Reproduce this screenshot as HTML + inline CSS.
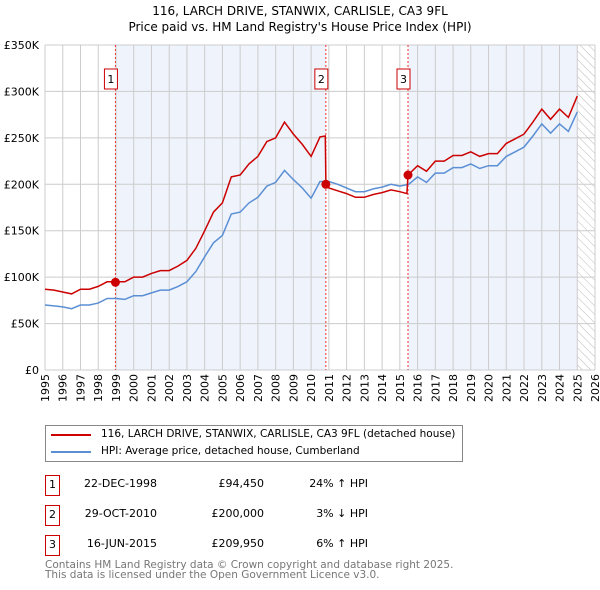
<!DOCTYPE html>
<html><head><meta charset="utf-8"><style>
body{margin:0;background:#fff;font-family:"DejaVu Sans","Liberation Sans",sans-serif;}
.t{position:absolute;font-size:11px;color:#000;white-space:nowrap}
</style></head><body>
<div style="position:relative;width:600px;height:590px;overflow:hidden">
<div class="t" style="left:0;width:600px;text-align:center;top:4px;font-size:12px">116, LARCH DRIVE, STANWIX, CARLISLE, CA3 9FL</div>
<div class="t" style="left:0;width:600px;text-align:center;top:20px;font-size:12px">Price paid vs. HM Land Registry's House Price Index (HPI)</div>
<svg id="chart" width="600" height="420" style="position:absolute;left:0;top:0;font-family:'DejaVu Sans',sans-serif"></svg>
<div style="position:absolute;left:45px;top:425px;width:416px;height:35px;border:1px solid #888">
<div style="position:absolute;left:5px;top:8px;width:40px;height:2px;background:#cc0000"></div>
<div class="t" style="left:55px;top:2px;font-size:10.5px">116, LARCH DRIVE, STANWIX, CARLISLE, CA3 9FL (detached house)</div>
<div style="position:absolute;left:5px;top:25px;width:40px;height:2px;background:#5b8fd4"></div>
<div class="t" style="left:55px;top:19px;font-size:10.5px">HPI: Average price, detached house, Cumberland</div>
</div>
<div id="rows"></div>
<div class="t" style="left:45px;top:560px;color:#777;font-size:10.5px;line-height:10px">Contains HM Land Registry data © Crown copyright and database right 2025.<br>This data is licensed under the Open Government Licence v3.0.</div>
</div>
<script>
const yearTicks=[1995,1996,1997,1998,1999,2000,2001,2002,2003,2004,2005,2006,2007,2008,2009,2010,2011,2012,2013,2014,2015,2016,2017,2018,2019,2020,2021,2022,2023,2024,2025,2026];
const valueTicks=[0,50,100,150,200,250,300,350];
const valueLabels=["£0","£50K","£100K","£150K","£200K","£250K","£300K","£350K"];
const hpiYears=[1995,1995.5,1996,1996.5,1997,1997.5,1998,1998.5,1999,1999.5,2000,2000.5,2001,2001.5,2002,2002.5,2003,2003.5,2004,2004.5,2005,2005.5,2006,2006.5,2007,2007.5,2008,2008.5,2009,2009.5,2010,2010.5,2011,2011.5,2012,2012.5,2013,2013.5,2014,2014.5,2015,2015.5,2016,2016.5,2017,2017.5,2018,2018.5,2019,2019.5,2020,2020.5,2021,2021.5,2022,2022.5,2023,2023.5,2024,2024.5,2025];
const hpiValues=[70,69,68,66,70,70,72,77,77,76,80,80,83,86,86,90,95,106,122,137,145,168,170,180,186,198,202,215,205,196,185,203,203,200,196,192,192,195,197,200,198,200,208,202,212,212,218,218,222,217,220,220,230,235,240,252,265,255,265,257,278];
const ppYears=[1995,1995.5,1996,1996.5,1997,1997.5,1998,1998.5,1999,1999.5,2000,2000.5,2001,2001.5,2002,2002.5,2003,2003.5,2004,2004.5,2005,2005.5,2006,2006.5,2007,2007.5,2008,2008.5,2009,2009.5,2010,2010.5,2010.8,2010.83,2011,2011.5,2012,2012.5,2013,2013.5,2014,2014.5,2015,2015.4,2015.46,2016,2016.5,2017,2017.5,2018,2018.5,2019,2019.5,2020,2020.5,2021,2021.5,2022,2022.5,2023,2023.5,2024,2024.5,2025];
const ppValues=[87,86,84,82,87,87,90,95,95,95,100,100,104,107,107,112,118,131,150,170,180,208,210,222,230,246,250,267,254,243,230,251,252,200,196,193,190,186,186,189,191,194,192,190,210,220,214,225,225,231,231,235,230,233,233,244,249,254,267,281,270,281,272,295];
const saleYears=[1998.97,2010.83,2015.46];
const saleValues=[94.45,200,209.95];
const saleLabels=["1","2","3"];
const saleDates=["22-DEC-1998","29-OCT-2010","16-JUN-2015"];
const salePrices=["£94,450","£200,000","£209,950"];
const saleHpi=["24% ↑ HPI","3% ↓ HPI","6% ↑ HPI"];

const X0=45,X1=595,Y0=370,Y1=45;
const xs=y=>X0+(y-1995)/(2026-1995)*(X1-X0);
const ys=v=>Y0-v/350*(Y0-Y1);
const svg=document.getElementById('chart');const NS='http://www.w3.org/2000/svg';
function mk(t,a){const e=document.createElementNS(NS,t);for(const k in a)e.setAttribute(k,a[k]);svg.appendChild(e);return e;}
let e;
e=mk('rect',{x:X0,y:Y1,width:X1-X0,height:Y0-Y1,fill:'#fff'});


e=mk('rect',{x:xs(saleYears[0]),y:Y1,width:xs(saleYears[1])-xs(saleYears[0]),height:Y0-Y1,fill:'#eef3fc'});


e=mk('rect',{x:xs(saleYears[2]),y:Y1,width:xs(2025)-xs(saleYears[2]),height:Y0-Y1,fill:'#eef3fc'});


const defs=document.createElementNS(NS,'defs');defs.innerHTML='<pattern id="h" width="6" height="6" patternUnits="userSpaceOnUse" patternTransform="rotate(-45)"><line x1="0" y1="0" x2="0" y2="6" stroke="#bbb" stroke-width="1"/></pattern>';svg.appendChild(defs);
e=mk('rect',{x:xs(2025),y:Y1,width:X1-xs(2025),height:Y0-Y1,fill:'url(#h)'});


yearTicks.forEach(y=>{e=mk('line',{x1:xs(y),x2:xs(y),y1:Y1,y2:Y0,stroke:'#ccc','stroke-width':1});


e=mk('text',{x:0,y:0,transform:`translate(${xs(y)+4},${Y0+4}) rotate(-90)`,'text-anchor':'end','font-size':11,fill:'#000'});e.textContent=y;

});
valueTicks.forEach((v,i)=>{e=mk('line',{x1:X0,x2:X1,y1:ys(v),y2:ys(v),stroke:'#ccc','stroke-width':1});


e=mk('text',{x:X0-6,y:ys(v)+4,'text-anchor':'end','font-size':11,fill:'#000'});e.textContent=valueLabels[i];

});
saleYears.forEach((y,i)=>{e=mk('line',{x1:xs(y),x2:xs(y),y1:Y1,y2:Y0,stroke:'#e33','stroke-width':1,'stroke-dasharray':'2,2'});

});
function path(xa,va,c,n){e=mk('path',{d:xa.map((y,i)=>(i?'L':'M')+xs(y).toFixed(1)+','+ys(va[i]).toFixed(1)).join(''),fill:'none',stroke:c,'stroke-width':1.5});

}
path(hpiYears,hpiValues,'#5b8fd4','hpi-line');
path(ppYears,ppValues,'#cc0000','price-paid-line');
saleYears.forEach((y,i)=>{e=mk('circle',{cx:xs(y),cy:ys(saleValues[i]),r:4.5,fill:'#cc0000'});


e=mk('rect',{x:xs(y)-11,y:69,width:13,height:20,fill:'#fff',stroke:'#c00'});


e=mk('text',{x:xs(y)-4.5,y:83,'text-anchor':'middle','font-size':11});e.textContent=saleLabels[i];

});
const rows=document.getElementById('rows');
saleLabels.forEach((l,i)=>{const top=475+i*30;
const d=document.createElement('div');


d.innerHTML=`<div style="position:absolute;left:45px;top:${top}px;width:13px;height:19px;border:1px solid #c00;font-size:11px;text-align:center;line-height:18px">${l}</div>
<div class="t" style="left:60px;width:97px;text-align:right;top:${top+2}px">${saleDates[i]}</div>
<div class="t" style="left:160px;width:104px;text-align:right;top:${top+2}px">${salePrices[i]}</div>
<div class="t" style="left:270px;width:98px;text-align:right;top:${top+2}px">${saleHpi[i]}</div>`;
rows.appendChild(d);});
</script>
</body></html>
